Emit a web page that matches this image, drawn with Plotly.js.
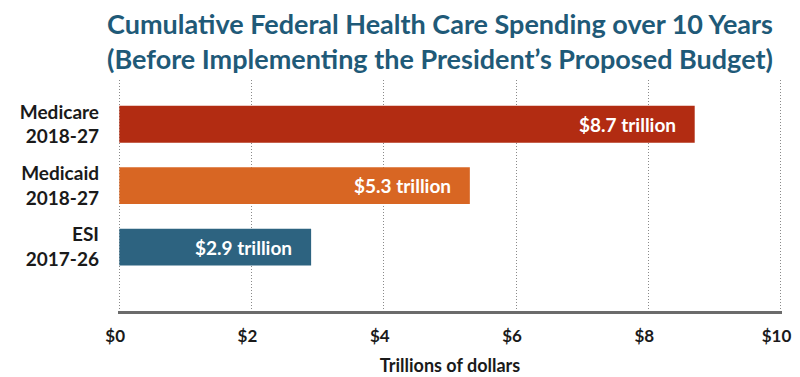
<!DOCTYPE html>
<html>
<head>
<meta charset="utf-8">
<script src="https://cdn.plot.ly/plotly-3.0.1.min.js"></script>
<style>html,body{margin:0;padding:0;background:#fff;}#chart{width:800px;height:377px;}</style>
</head>
<body>
<div id="chart"></div>
<script>
const categories = ["Medicare<br>2018-27", "Medicaid<br>2018-27", "ESI<br>2017-26"];
const values = [8.7, 5.3, 2.9];
const labels = ["$8.7 trillion", "$5.3 trillion", "$2.9 trillion"];
const colors = ["#b22c12", "#d86623", "#2d6380"];
const tickVals = [0, 2, 4, 6, 8, 10];
const tickText = ["$0", "$2", "$4", "$6", "$8", "$10"];

const FONT = "Lato, 'Open Sans', sans-serif";

const trace = {
  type: "bar",
  orientation: "h",
  x: values,
  y: [0, 1, 2],
  width: 0.6,
  marker: {color: colors},
  hoverinfo: "none"
};

const annotations = values.map((v, i) => ({
  x: v, y: i, xref: "x", yref: "y",
  text: labels[i], showarrow: false,
  xanchor: "right", yanchor: "middle", xshift: -17,
  font: {family: FONT, size: 19, color: "#ffffff", weight: 700}
}));

const layout = {
  width: 800, height: 377,
  margin: {l: 118, r: 18, t: 80, b: 66},
  paper_bgcolor: "#ffffff", plot_bgcolor: "#ffffff",
  showlegend: false,
  title: {
    text: "Cumulative Federal Health Care Spending over 10 Years<br>(Before Implementing the President’s Proposed Budget)",
    font: {family: FONT, size: 27, color: "#1f5a78", weight: 700},
    x: 0.55, xanchor: "center", y: 0.91, yanchor: "top"
  },
  xaxis: {
    range: [-0.02, 10.02], tickvals: tickVals,
    ticktext: tickText.map(t => t + "\u00a0\u00a0"),
    showgrid: true, gridcolor: "#8a8a8a", griddash: "1px,2px", gridwidth: 1,
    zeroline: false, showline: true, linecolor: "#6b6b6b", linewidth: 3,
    ticks: "", ticklen: 0, ticklabelstandoff: 8,
    tickfont: {family: FONT, size: 17, color: "#1a1a1a", weight: 700},
    title: {text: "Trillions of dollars", font: {family: FONT, size: 18, color: "#1a1a1a", weight: 700}, standoff: 14},
    fixedrange: true
  },
  yaxis: {
    range: [3.04, -0.72], tickvals: [0, 1, 2], ticktext: categories,
    showgrid: false, zeroline: false, showline: false, ticks: "",
    tickfont: {family: FONT, size: 19, color: "#1a1a1a", weight: 700},
    ticklabelstandoff: 18,
    fixedrange: true
  },
  annotations: annotations
};

Plotly.newPlot("chart", [trace], layout, {displayModeBar: false, staticPlot: true});
</script>
</body>
</html>
